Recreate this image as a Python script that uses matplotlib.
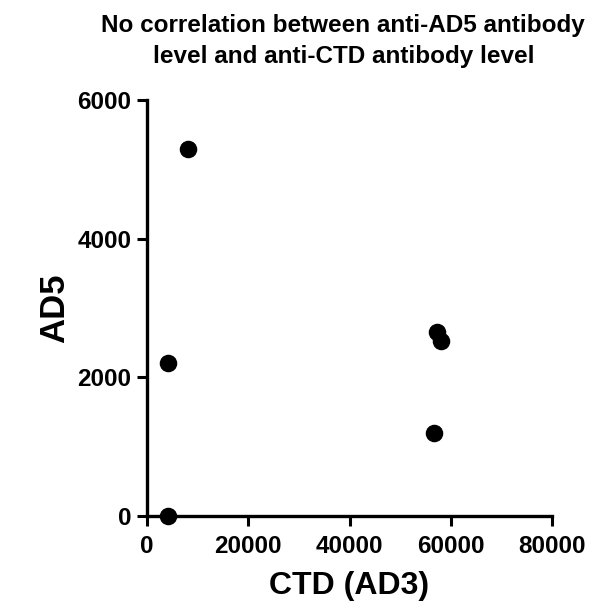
import matplotlib
matplotlib.use("Agg")
import matplotlib.pyplot as plt

ctd = [8100, 4150, 4150, 57300, 58050, 56700]
ad5 = [5300, 2200, 0, 2650, 2520, 1200]
xticks = [0, 20000, 40000, 60000, 80000]
yticks = [0, 2000, 4000, 6000]
title_lines = ['No correlation between anti-AD5 antibody',
               'level and anti-CTD antibody level']

plt.rcParams['font.family'] = ['Liberation Sans', 'DejaVu Sans']
plt.rcParams['font.weight'] = 'bold'

W, H = 604, 603
fig = plt.figure(figsize=(W / 100, H / 100), dpi=100)
ax = fig.add_axes([147 / W, 1 - 516 / H, 405 / W, 416 / H])
ax.scatter(ctd, ad5, s=135, color='black', zorder=3, clip_on=False)
ax.set_xlim(0, 80000)
ax.set_ylim(0, 6000)
ax.set_xticks(xticks)
ax.set_yticks(yticks)
ax.set_xticklabels([str(v) for v in xticks], fontsize=17.5, fontweight='bold')
ax.set_yticklabels([str(v) for v in yticks], fontsize=17.5, fontweight='bold')
for s in ['top', 'right']:
    ax.spines[s].set_visible(False)
for s in ['left', 'bottom']:
    ax.spines[s].set_linewidth(2.4)
ax.tick_params(width=2.2, length=7)
ax.tick_params(axis='x', pad=6.5)
ax.tick_params(axis='y', pad=4.3)
ax.set_xlabel('CTD (AD3)', fontsize=23, fontweight='bold')
ax.xaxis.set_label_coords(0.5, (516 - 571) / 416)
ax.set_ylabel('AD5', fontsize=25, fontweight='bold')
ax.yaxis.set_label_coords((71 - 147) / 405, 0.5)

fig.text(343 / W, 1 - 32 / H, title_lines[0], ha='center', va='baseline',
         fontsize=17.5, fontweight='bold')
fig.text(344 / W, 1 - 63 / H, title_lines[1], ha='center', va='baseline',
         fontsize=17.5, fontweight='bold')
fig.savefig('out.png', dpi=100)
